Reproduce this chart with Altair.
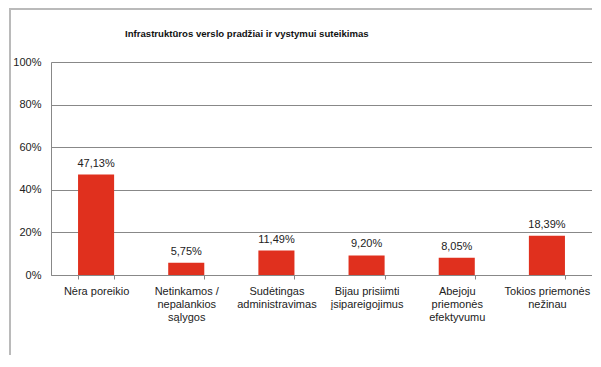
import altair as alt
import pandas as pd

categories = [
    "Nėra poreikio",
    "Netinkamos /\nnepalankios\nsąlygos",
    "Sudėtingas\nadministravimas",
    "Bijau prisiimti\nįsipareigojimus",
    "Abejoju\npriemonės\nefektyvumu",
    "Tokios priemonės\nnežinau",
]
values = [47.13, 5.75, 11.49, 9.20, 8.05, 18.39]
y_ticks = [0, 20, 40, 60, 80, 100]
title_text = "Infrastruktūros  verslo  pradžiai  ir vystymui  suteikimas"

df = pd.DataFrame({"cat": categories, "value": values})

FONT = "Liberation Sans"
BAR = "#E0301E"

x_enc = alt.X(
    "cat:N",
    sort=categories,
    title=None,
    scale=alt.Scale(paddingInner=0.6, paddingOuter=0.3),
    axis=alt.Axis(
        labelAngle=0,
        labelExpr="split(datum.label, '\\n')",
        labelFont=FONT,
        labelFontSize=11,
        labelColor="#222222",
        labelLineHeight=13,
        labelPadding=6,
        labelBaseline="top",
        tickBand="extent",
        tickSize=4,
        tickColor="#888888",
        domainColor="#888888",
        grid=False,
    ),
)

y_enc = alt.Y(
    "value:Q",
    title=None,
    scale=alt.Scale(domain=[0, 100], nice=False),
    axis=alt.Axis(
        values=y_ticks,
        labelExpr="datum.value + '%'",
        labelFont=FONT,
        labelFontSize=11,
        labelColor="#222222",
        labelPadding=10,
        ticks=False,
        domainColor="#888888",
        gridColor="#888888",
        gridWidth=1,
    ),
)

bars = alt.Chart(df).mark_bar(color=BAR).encode(x=x_enc, y=y_enc)

labels = (
    alt.Chart(df)
    .transform_calculate(lbl="replace(format(datum.value, '.2f'), '.', ',') + '%'")
    .mark_text(dy=-6, baseline="bottom", font=FONT, fontSize=11, color="#222222")
    .encode(x=alt.X("cat:N", sort=categories), y="value:Q", text="lbl:N")
)

frame = (
    alt.Chart(df)
    .mark_rect(fill=None, stroke="#bbbbbb", strokeWidth=1.5)
    .encode(x=alt.value(-41), x2=alt.value(700), y=alt.value(-53), y2=alt.value(500))
)

title = (
    alt.Chart(pd.DataFrame({"t": [title_text]}))
    .mark_text(
        font=FONT, fontSize=9.6, fontWeight="bold", color="#111111",
        align="left", baseline="alphabetic",
    )
    .encode(x=alt.value(74), y=alt.value(-25), text="t:N")
)

chart = (
    alt.layer(frame, bars, labels, title)
    .properties(
        width=541,
        height=213,
        autosize=alt.AutoSizeParams(type="none"),
        padding={"left": 43, "top": 54, "right": 0, "bottom": 80},
    )
    .configure_view(stroke=None)
    .configure(background="white")
)

chart.save("out.html", embed_options={"renderer": "svg", "actions": False})
